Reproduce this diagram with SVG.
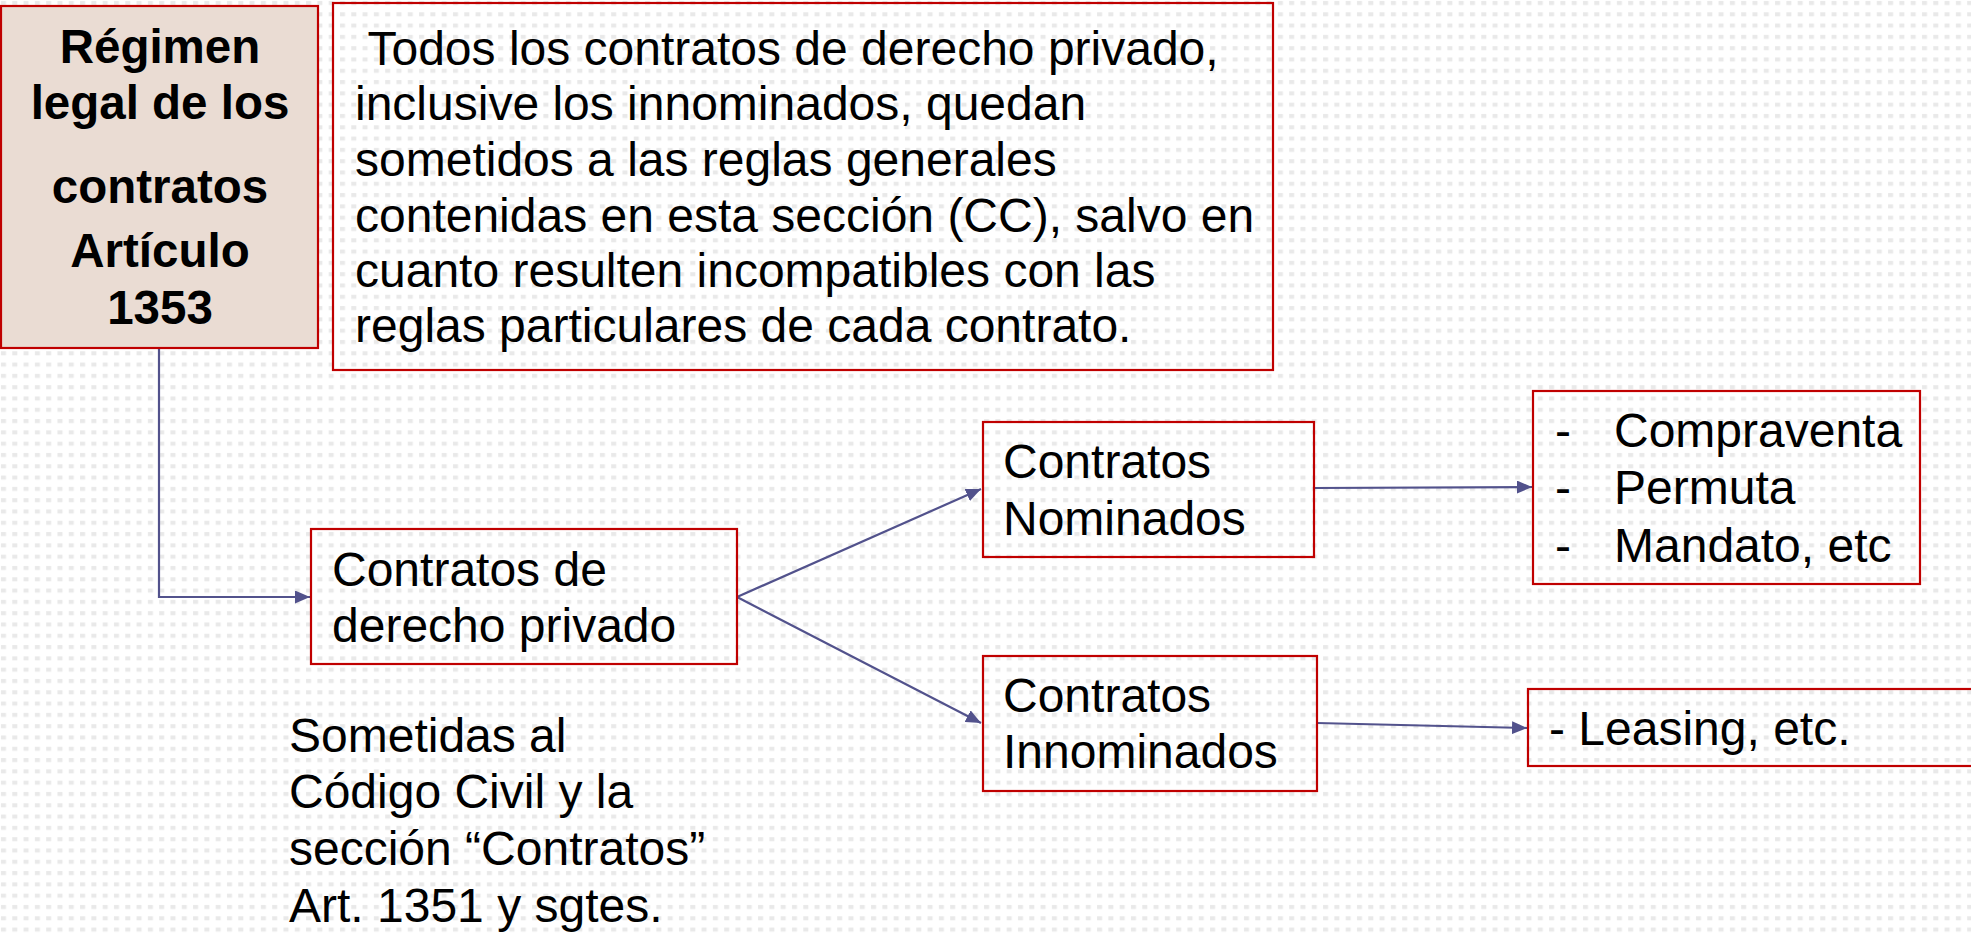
<svg xmlns="http://www.w3.org/2000/svg" width="1971" height="934" viewBox="0 0 1971 934">
<style>
.box{fill:none;stroke:#c00000;stroke-width:2.2}
.t{font-family:"Liberation Sans",Arial,sans-serif;font-size:48px;fill:#000}
.b{font-family:"Liberation Sans",Arial,sans-serif;font-size:47.5px;font-weight:bold;fill:#000;text-anchor:middle}
.c{fill:none;stroke:#52528c;stroke-width:2.2}
</style>
<defs>
<pattern id="dots" x="0" y="0" width="11.3" height="11.3" patternUnits="userSpaceOnUse">
<rect x="1" y="1" width="5" height="4" fill="#e9e9e9"/>
</pattern>
<marker id="arr" markerUnits="userSpaceOnUse" markerWidth="15" markerHeight="13" refX="15" refY="6.5" orient="auto">
<path d="M0,0 L15,6.5 L0,13 z" fill="#52528c"/>
</marker>
</defs>
<rect width="1971" height="934" fill="#fff"/>
<rect width="1971" height="934" fill="url(#dots)"/>
<g id="connectors">
<path class="c" d="M159,348 V597 H310" marker-end="url(#arr)"/>
<path class="c" d="M737,597 L981,489" marker-end="url(#arr)"/>
<path class="c" d="M737,597 L981,723" marker-end="url(#arr)"/>
<path class="c" d="M1314,488 L1532,487" marker-end="url(#arr)"/>
<path class="c" d="M1317,723 L1527,728" marker-end="url(#arr)"/>
</g>
<g id="regimen">
<rect x="1" y="6" width="317" height="342" fill="#eadcd3" stroke="#c00000" stroke-width="2.2"/>
<text class="b" x="160" y="63">Régimen</text>
<text class="b" x="160" y="119">legal de los</text>
<text class="b" x="160" y="203">contratos</text>
<text class="b" x="160" y="267">Artículo</text>
<text class="b" x="160" y="324">1353</text>
</g>
<g id="articulo">
<rect class="box" x="333" y="3" width="940" height="367"/>
<text class="t" x="355" y="65" xml:space="preserve"> Todos los contratos de derecho privado,</text>
<text class="t" x="355" y="120">inclusive los innominados, quedan</text>
<text class="t" x="355" y="176">sometidos a las reglas generales</text>
<text class="t" x="355" y="232">contenidas en esta sección (CC), salvo en</text>
<text class="t" x="355" y="287">cuanto resulten incompatibles con las</text>
<text class="t" x="355" y="342">reglas particulares de cada contrato.</text>
</g>
<g id="privado">
<rect class="box" x="311" y="529" width="426" height="135"/>
<text class="t" x="332" y="586">Contratos de</text>
<text class="t" x="332" y="642">derecho privado</text>
</g>
<g id="sometidas">
<text class="t" x="289" y="752">Sometidas al</text>
<text class="t" x="289" y="808">Código Civil y la</text>
<text class="t" x="289" y="865">sección “Contratos”</text>
<text class="t" x="289" y="922">Art. 1351 y sgtes.</text>
</g>
<g id="nominados">
<rect class="box" x="983" y="422" width="331" height="135"/>
<text class="t" x="1003" y="478">Contratos</text>
<text class="t" x="1003" y="535">Nominados</text>
</g>
<g id="innominados">
<rect class="box" x="983" y="656" width="334" height="135"/>
<text class="t" x="1003" y="712">Contratos</text>
<text class="t" x="1003" y="768">Innominados</text>
</g>
<g id="ejemplos-nominados">
<rect class="box" x="1533" y="391" width="387" height="193"/>
<text class="t" x="1555" y="447">-</text>
<text class="t" x="1614" y="447">Compraventa</text>
<text class="t" x="1555" y="504">-</text>
<text class="t" x="1614" y="504">Permuta</text>
<text class="t" x="1555" y="562">-</text>
<text class="t" x="1614" y="562">Mandato, etc</text>
</g>
<g id="ejemplos-innominados">
<rect class="box" x="1528" y="689" width="460" height="77"/>
<text class="t" x="1549" y="745">- Leasing, etc.</text>
</g>
</svg>
